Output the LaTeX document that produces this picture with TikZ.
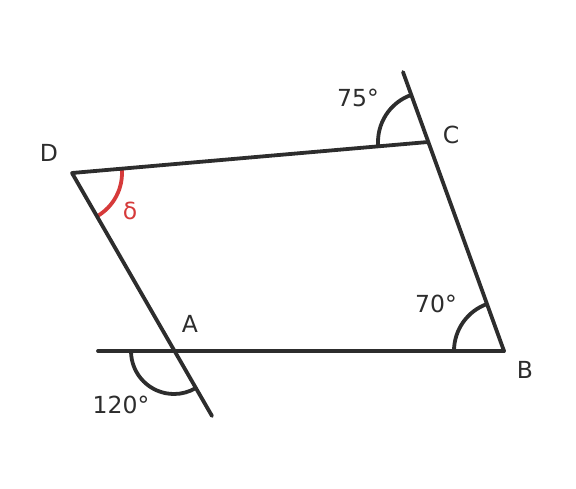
\documentclass[tikz,border=0pt]{standalone}
\usepackage{fontspec}
\setmainfont{DejaVu Sans}
\definecolor{ink}{HTML}{2D2D2D}
\definecolor{redm}{HTML}{D63A3A}
\begin{document}
\begin{tikzpicture}[x=1pt,y=-1pt,
  seg/.style={draw=ink,line width=3.8pt,line cap=round},
  arcm/.style={draw=ink,line width=3.8pt},
  lab/.style={text=ink,font=\fontsize{23.5}{26}\selectfont,inner sep=0pt}]
\useasboundingbox (0,0) rectangle (576,488);
\coordinate (D) at (72,173);
\coordinate (C) at (428,142);
\coordinate (B) at (504,351);
\coordinate (A) at (174,351);
\coordinate (Aend) at (212,416);
\coordinate (Hs) at (98,351);
\coordinate (Cend) at (403,72);
% angle arcs
\draw[arcm] ([shift={(180:43)}]A) arc[start angle=180, end angle=59.7, radius=43];
\draw[arcm] ([shift={(180:50)}]B) arc[start angle=180, end angle=250, radius=50];
\draw[arcm] ([shift={(175:50)}]C) arc[start angle=175, end angle=250.35, radius=50];
\draw[draw=redm,line width=3.8pt] ([shift={(-5:50)}]D) arc[start angle=-5, end angle=60.2, radius=50];
% lines
\draw[seg] (Hs) -- (B);
\draw[seg] (Cend) -- (B);
\draw[seg,line join=round] (Aend) -- (D) -- (C);
% labels
\node[lab] (lD) at (49,153) {D};
\node[lab] (lC) at (451,135) {C};
\node[lab] (lB) at (525,370) {B};
\node[lab] (lA) at (190,324) {A};
\node[lab] (l75) at (358,98) {75°};
\node[lab] (l70) at (436,304) {70°};
\node[lab] (l120) at (121,405) {120°};
\node[lab,text=redm] (ld) at (130,211) {δ};
\end{tikzpicture}
\end{document}
